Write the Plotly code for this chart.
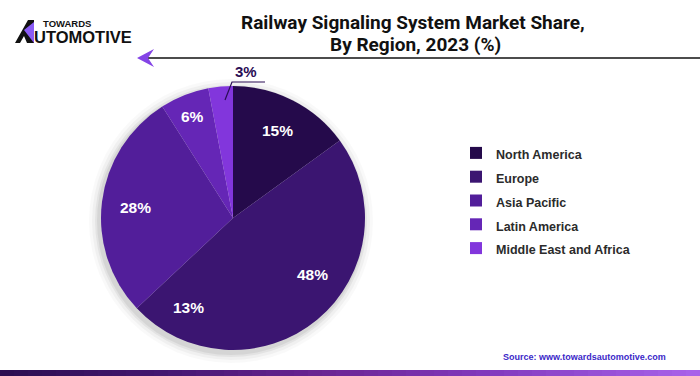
import math
import plotly.graph_objects as go

# ---- data ----
regions = ["North America", "Europe", "Asia Pacific", "Latin America", "Middle East and Africa"]
shares = [15, 48, 28, 6, 3]
colors = ["#250a4b", "#3b1571", "#521e9a", "#6526b6", "#8236dc"]
title_lines = ["Railway Signaling System Market Share,", "By Region, 2023 (%)"]
source_text = "Source: www.towardsautomotive.com"
extra_label = "13%"

# label placement style (fraction of radius, angle nudge in degrees)
label_radius = [0.74, 0.74, 0.74, 0.83, None]
label_nudge = [0, -15, -1, 0, 0]

W, H = 700, 376
def px(x): return x / W
def py(y): return 1 - y / H

cx, cy, r = 233, 218, 132
lbl_font = dict(family="Liberation Sans, Arial, sans-serif", size=15.5, color="white", weight="bold")

fig = go.Figure()
fig.add_trace(go.Pie(
    labels=[f"<span style='font-size:12.5px;font-weight:bold'>{l}</span>" for l in regions],
    values=shares,
    sort=False,
    direction="clockwise",
    rotation=0,
    marker=dict(colors=colors, line=dict(width=0)),
    textinfo="none",
    domain=dict(x=[px(cx - r), px(cx + r)], y=[py(cy + r), py(cy - r)]),
    hovertemplate="%{value}%<extra></extra>",
    showlegend=True,
))

shapes = []
# soft shadow around pie
for dr, a in [(10, 0.025), (7, 0.035), (4, 0.05), (2, 0.06)]:
    shapes.append(dict(type="circle", xref="paper", yref="paper",
                       x0=px(cx - r - dr - 2), x1=px(cx + r + dr - 2),
                       y0=py(cy + r + dr + 3), y1=py(cy - r - dr + 3),
                       fillcolor=f"rgba(0,0,0,{a})", line=dict(width=0), layer="below"))
# header line with arrow
shapes.append(dict(type="line", xref="paper", yref="paper", x0=px(148), x1=1, y0=py(58), y1=py(58),
                   line=dict(color="#111111", width=1.3)))
shapes.append(dict(type="path", xref="paper", yref="paper",
                   path=f"M{px(137)},{py(58)} L{px(154)},{py(49)} L{px(148)},{py(58)} L{px(154)},{py(67)} Z",
                   fillcolor="#8444e6", line=dict(width=0)))
# leader line for 3%
shapes.append(dict(type="path", xref="paper", yref="paper",
                   path=f"M{px(225)},{py(100)} L{px(232)},{py(82)} L{px(265)},{py(82)}",
                   line=dict(color="#2a0d55", width=1.2)))
# logo icon
shapes.append(dict(type="path", xref="paper", yref="paper",
                   path=f"M{px(15)},{py(43)} L{px(28)},{py(20)} L{px(34)},{py(20)} L{px(34)},{py(43)} L{px(27)},{py(43)} L{px(24)},{py(36)} L{px(20)},{py(43)} Z",
                   fillcolor="#111111", line=dict(width=0)))
shapes.append(dict(type="path", xref="paper", yref="paper",
                   path=f"M{px(24)},{py(30)} L{px(34)},{py(22)} L{px(34)},{py(43)} Z",
                   fillcolor="#8b5cf6", line=dict(width=0)))
# bottom gradient bar
stops = [(0.0, (43, 14, 80)), (0.25, (70, 24, 115)), (0.45, (105, 36, 145)), (0.7, (130, 58, 190)), (1.0, (170, 100, 235))]
def interp(t):
    for (t0, c0), (t1, c1) in zip(stops[:-1], stops[1:]):
        if t0 <= t <= t1:
            f = (t - t0) / (t1 - t0)
            return tuple(int(c0[k] + f * (c1[k] - c0[k])) for k in range(3))
    return stops[-1][1]
N = 50
for i in range(N):
    c = interp((i + 0.5) / N)
    shapes.append(dict(type="rect", xref="paper", yref="paper",
                       x0=i / N, x1=(i + 1) / N + 0.002, y0=0, y1=py(370),
                       fillcolor=f"rgb{c}", line=dict(width=0)))

title_font = dict(family="Roboto, sans-serif", size=19, color="#111111", weight="bold")
annotations = [
    dict(text=title_lines[0], x=px(413), y=py(22), xref="paper", yref="paper",
         xanchor="center", yanchor="middle", showarrow=False, font=title_font),
    dict(text=title_lines[1], x=px(415), y=py(44), xref="paper", yref="paper",
         xanchor="center", yanchor="middle", showarrow=False, font=title_font),
    dict(text="TOWARDS", x=px(41), y=py(24), xref="paper", yref="paper", xanchor="left", yanchor="middle",
         showarrow=False, font=dict(family="Liberation Sans, Arial, sans-serif", size=9.5, color="#111111", weight="bold")),
    dict(text="UTOMOTIVE", x=px(32), y=py(37), xref="paper", yref="paper", xanchor="left", yanchor="middle",
         showarrow=False, font=dict(family="Liberation Sans, Arial, sans-serif", size=16.5, color="#111111", weight="bold")),
    dict(text=f"{shares[4]}%", x=px(246), y=py(72), xref="paper", yref="paper", xanchor="center", yanchor="middle",
         showarrow=False, font=dict(family="Liberation Sans, Arial, sans-serif", size=15, color="#2a0d55", weight="bold")),
    dict(text=extra_label, x=px(188), y=py(307), xref="paper", yref="paper", xanchor="center", yanchor="middle",
         showarrow=False, font=lbl_font),
    dict(text=source_text, x=px(668), y=py(357), xref="paper", yref="paper", xanchor="right", yanchor="middle",
         showarrow=False, font=dict(family="Liberation Sans, Arial, sans-serif", size=9, color="#3b28c8", weight="bold")),
]

# in-slice value labels, positioned from the data (mid-angle of each slice)
total = sum(shares)
cum = 0
for i, v in enumerate(shares):
    mid = (cum + v / 2) / total * 360 + label_nudge[i]
    cum += v
    if label_radius[i] is None:
        continue
    rr = label_radius[i] * r
    x = cx + rr * math.sin(math.radians(mid))
    y = cy - rr * math.cos(math.radians(mid))
    annotations.append(dict(text=f"{v}%", x=px(x), y=py(y), xref="paper", yref="paper",
                            xanchor="center", yanchor="middle", showarrow=False, font=lbl_font))

fig.update_layout(
    width=W, height=H,
    margin=dict(l=0, r=0, t=0, b=0),
    paper_bgcolor="white", plot_bgcolor="white",
    shapes=shapes, annotations=annotations,
    legend=dict(x=px(456), y=py(136), xanchor="left", yanchor="top",
                font=dict(family="Liberation Sans, Arial, sans-serif", size=16, color="#2b2b2b"),
                bgcolor="rgba(0,0,0,0)", traceorder="normal"),
)

fig.write_html("out.html", config={"displayModeBar": False},
               post_script="document.body.style.margin='0';document.body.style.overflow='hidden';")
